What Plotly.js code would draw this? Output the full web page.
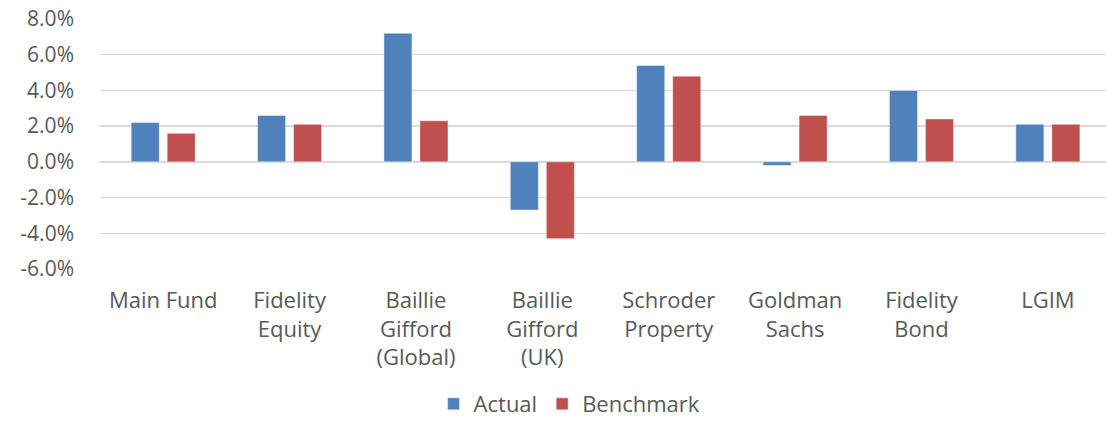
<!DOCTYPE html>
<html>
<head>
<meta charset="utf-8">
<script src="https://cdn.plot.ly/plotly-3.0.1.min.js"></script>
<style>html,body{margin:0;padding:0;background:#fff;}#chart{width:1106px;height:425px;}</style>
</head>
<body>
<div id="chart"></div>
<script>
const categories = ["Main Fund", "Fidelity Equity", "Baillie Gifford (Global)", "Baillie Gifford (UK)", "Schroder Property", "Goldman Sachs", "Fidelity Bond", "LGIM"];
const tickLabels = ["Main Fund", "Fidelity<br>Equity", "Baillie<br>Gifford<br>(Global)", "Baillie<br>Gifford<br>(UK)", "Schroder<br>Property", "Goldman<br>Sachs", "Fidelity<br>Bond", "LGIM"];
const actual = [2.2, 2.6, 7.2, -2.7, 5.4, -0.2, 4.0, 2.1];
const benchmark = [1.6, 2.1, 2.3, -4.3, 4.8, 2.6, 2.4, 2.1];
const yTicks = [-6, -4, -2, 0, 2, 4, 6, 8];
const yTickLabels = ["-6.0%", "-4.0%", "-2.0%", "0.0%", "2.0%", "4.0%", "6.0%", "8.0%"];

const font = "Open Sans, sans-serif";
const textColor = "#595959";

const traces = [
  {type: "bar", name: "Actual", x: categories, y: actual,
   marker: {color: "#4F81BD", line: {color: "rgba(255,255,255,0.45)", width: 1}}},
  {type: "bar", name: "Benchmark", x: categories, y: benchmark,
   marker: {color: "#C0504D", line: {color: "rgba(255,255,255,0.45)", width: 1}}}
];

const layout = {
  width: 1106, height: 425,
  margin: {l: 100, r: 0, t: 19, b: 156, autoexpand: false},
  paper_bgcolor: "#fff", plot_bgcolor: "#fff",
  barmode: "group", bargap: 0.43, bargroupgap: 0.22,
  font: {family: font, color: textColor, size: 20},
  showlegend: true,
  legend: {orientation: "h", xref: "container", yref: "container", x: 0.515, xanchor: "center", y: 0, yanchor: "bottom",
           font: {family: font, size: 22, color: textColor}, traceorder: "normal"},
  xaxis: {type: "category", categoryarray: categories, tickvals: categories, ticktext: tickLabels,
          range: [-0.5, 7.46], showgrid: false, zeroline: false, showline: false, ticks: "", automargin: false,
          tickfont: {family: font, size: 22, color: textColor}, ticklabelstandoff: 16, fixedrange: true},
  yaxis: {range: [-6, 8], tickmode: "array", tickvals: yTicks, ticktext: yTickLabels, automargin: false,
          showgrid: true, gridcolor: "#d9d9d9", gridwidth: 1.5, zeroline: false, showline: false, ticks: "",
          tickfont: {family: font, size: 21, color: textColor}, ticklabelstandoff: 25, fixedrange: true}
};

Plotly.newPlot("chart", traces, layout, {displayModeBar: false, staticPlot: true});
</script>
</body>
</html>
